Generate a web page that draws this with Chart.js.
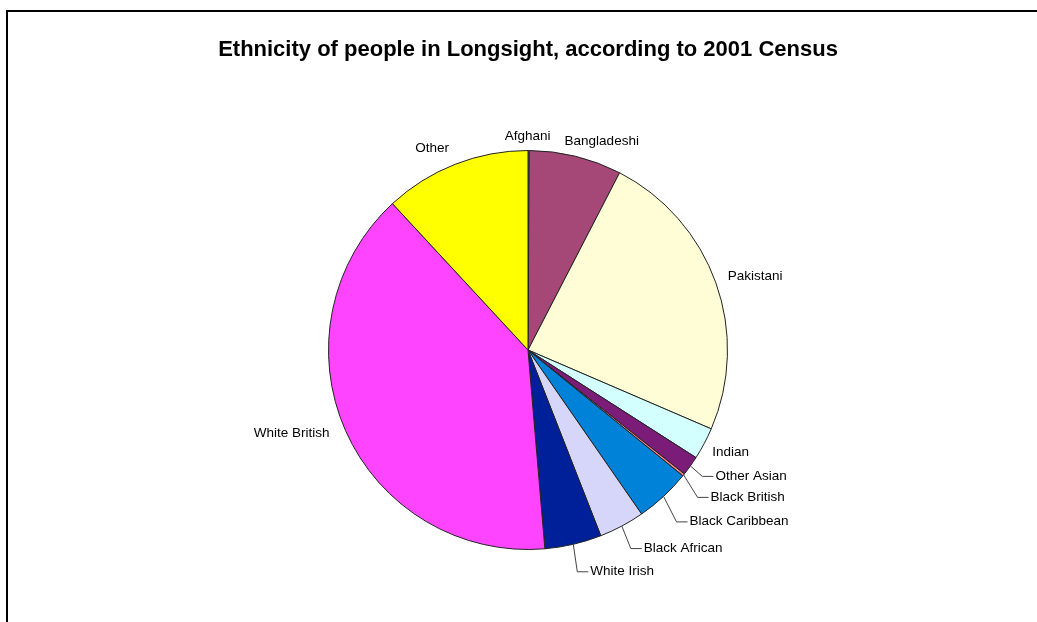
<!DOCTYPE html>
<html>
<head>
<meta charset="utf-8">
<title>Ethnicity of people in Longsight</title>
<script src="https://cdn.jsdelivr.net/npm/chart.js@4/dist/chart.umd.min.js"></script>
<style>
  html, body { margin: 0; padding: 0; background: #fff; }
  #wrap { width: 1037px; height: 622px; }
</style>
</head>
<body>
<div id="wrap"><canvas id="pie" width="1037" height="622"></canvas></div>
<script>
// 2001 Census, Longsight ward: share of residents by ethnic group (%)
const groups = ['Afghani', 'Bangladeshi', 'Pakistani', 'Indian', 'Other Asian',
  'Black British', 'Black Caribbean', 'Black African', 'White Irish',
  'White British', 'Other'];
const shares = [0.1, 7.5, 23.9, 2.6, 1.6, 0.2, 4.5, 3.7, 4.6, 39.5, 11.9];
const sliceColours = ['#9999FF', '#A54878', '#FFFDD6', '#D4FFFF', '#7A1C78',
  '#FF8080', '#0082D8', '#D6D6FA', '#00209A', '#FF44FF', '#FFFF00'];

// where each label sits relative to the rim point at its slice's mid angle
const labelPlacement = {
  'Afghani':         { dx: -1,  dy: -14, align: 'center' },
  'Bangladeshi':     { dx: 26,  dy: -15, align: 'center' },
  'Pakistani':       { dx: 12,  dy: -7,  align: 'left' },
  'Indian':          { dx: 8,   dy: 9,   align: 'left' },
  'Other Asian':     { dx: 25,  dy: 10,  align: 'left', leader: true },
  'Black British':   { dx: 27,  dy: 22,  align: 'left', leader: true },
  'Black Caribbean': { dx: 26,  dy: 25,  align: 'left', leader: true },
  'Black African':   { dx: 22,  dy: 22,  align: 'left', leader: true },
  'White Irish':     { dx: 17,  dy: 27,  align: 'left', leader: true },
  'White British':   { dx: -16, dy: 3,   align: 'right' },
  'Other':           { dx: -23, dy: -16, align: 'center' }
};

const frame = {
  id: 'frame',
  beforeDraw(chart) {
    const ctx = chart.ctx;
    ctx.save();
    ctx.fillStyle = '#000';
    ctx.fillRect(6, 10, chart.width - 6, 2);
    ctx.fillRect(6, 10, 2, chart.height - 10);
    ctx.restore();
  }
};

const sliceLabels = {
  id: 'sliceLabels',
  afterDatasetsDraw(chart) {
    const ctx = chart.ctx;
    const meta = chart.getDatasetMeta(0);
    ctx.save();
    ctx.font = '13.5px "Liberation Sans", Arial, sans-serif';
    ctx.textBaseline = 'middle';
    ctx.fillStyle = '#000';
    ctx.strokeStyle = '#444';
    ctx.lineWidth = 1;
    meta.data.forEach((arc, i) => {
      const p = arc.getProps(['x', 'y', 'startAngle', 'endAngle', 'outerRadius'], true);
      const mid = (p.startAngle + p.endAngle) / 2;
      const ex = p.x + Math.cos(mid) * p.outerRadius;
      const ey = p.y + Math.sin(mid) * p.outerRadius;
      const place = labelPlacement[groups[i]];
      const tx = ex + place.dx;
      const ty = ey + place.dy;
      if (place.leader) {
        ctx.beginPath();
        ctx.moveTo(ex, ey);
        ctx.lineTo(tx - 13, ty + 0.5);
        ctx.lineTo(tx - 2, ty + 0.5);
        ctx.stroke();
      }
      ctx.textAlign = place.align;
      ctx.fillText(groups[i], tx, ty);
    });
    ctx.restore();
  }
};

new Chart(document.getElementById('pie'), {
  type: 'pie',
  data: {
    labels: groups,
    datasets: [{
      data: shares,
      backgroundColor: sliceColours,
      borderColor: '#222',
      borderWidth: 1
    }]
  },
  options: {
    responsive: false,
    animation: false,
    layout: { padding: { left: 19, right: 0, top: 0, bottom: 72 } },
    plugins: {
      legend: { display: false },
      tooltip: { enabled: false },
      title: {
        display: true,
        text: 'Ethnicity of people in Longsight, according to 2001 Census',
        color: '#000',
        font: { family: '"Liberation Sans", Arial, sans-serif', size: 22, weight: 'bold' },
        padding: { top: 37, bottom: 86.6 }
      }
    }
  },
  plugins: [frame, sliceLabels]
});
</script>
</body>
</html>
